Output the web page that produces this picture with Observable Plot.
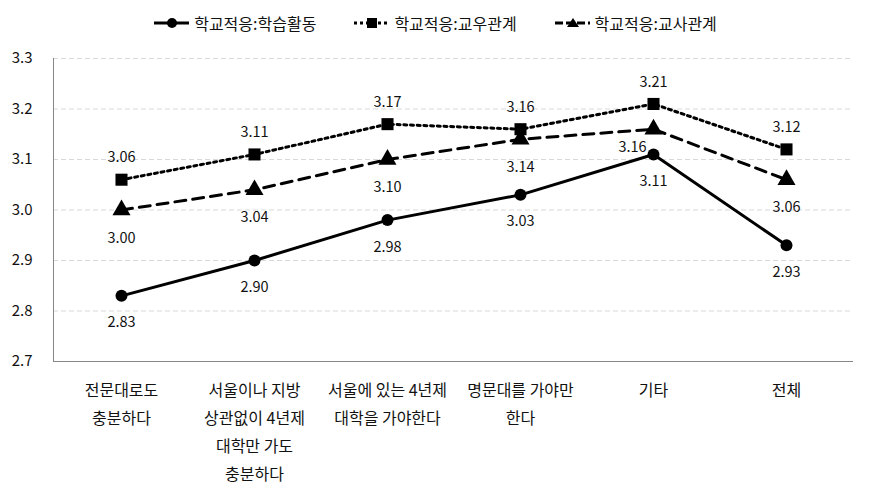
<!DOCTYPE html>
<html>
<head>
<meta charset="utf-8">
<script src="https://cdn.jsdelivr.net/npm/d3@7"></script>
<script src="https://cdn.jsdelivr.net/npm/@observablehq/plot@0.6"></script>
<style>
  body { margin: 0; background: #fff; font-family: "Noto Sans CJK KR", "Noto Sans", sans-serif; }
  #legend { height: 46px; display: flex; justify-content: center; align-items: center; gap: 38px; font-size: 16px; color: #111; }
  .item { display: flex; align-items: center; gap: 5px; }
</style>
</head>
<body>
<div id="legend"></div>
<div id="chart"></div>
<script>
const categories = [
  "전문대로도\n충분하다",
  "서울이나 지방\n상관없이 4년제\n대학만 가도\n충분하다",
  "서울에 있는 4년제\n대학을 가야한다",
  "명문대를 가야만\n한다",
  "기타",
  "전체"
];
const seriesNames = ["학교적응:학습활동", "학교적응:교우관계", "학교적응:교사관계"];
const learning = [2.83, 2.90, 2.98, 3.03, 3.11, 2.93];
const peers    = [3.06, 3.11, 3.17, 3.16, 3.21, 3.12];
const teachers = [3.00, 3.04, 3.10, 3.14, 3.16, 3.06];
const yTicks = [2.7, 2.8, 2.9, 3.0, 3.1, 3.2, 3.3];

const toRows = (vals, s) => vals.map((v, i) => ({category: categories[i], value: v, series: s}));
const L = toRows(learning, seriesNames[0]);
const P = toRows(peers, seriesNames[1]);
const T = toRows(teachers, seriesNames[2]);

const fmt = d3.format(".2f");
const styles = [
  {dash: null, symbol: "circle"},
  {dash: "3,3", symbol: "square"},
  {dash: "8,3", symbol: "triangle"}
];

// legend
const legend = document.getElementById("legend");
seriesNames.forEach((name, i) => {
  const st = styles[i];
  const item = document.createElement("div");
  item.className = "item";
  let marker = "";
  if (st.symbol === "circle") marker = '<circle cx="18" cy="8" r="5" fill="#000"/>';
  if (st.symbol === "square") marker = '<rect x="13" y="3" width="10" height="10" fill="#000"/>';
  if (st.symbol === "triangle") marker = '<path d="M18,3 L24,12 L12,12 Z" fill="#000"/>';
  item.innerHTML = `<svg width="35" height="16"><line x1="0" x2="35" y1="8" y2="8" stroke="#000" stroke-width="3" ${st.dash ? `stroke-dasharray="${st.dash}"` : ""}/>${marker}</svg><span>${name}</span>`;
  legend.appendChild(item);
});

const lineOpts = (dash) => ({x: "category", y: "value", stroke: "#000", strokeWidth: 3, strokeDasharray: dash});

const plot = Plot.plot({
  width: 871,
  height: 447,
  marginTop: 12,
  marginBottom: 132,
  marginLeft: 53,
  marginRight: 18,
  style: {fontFamily: '"Noto Sans CJK KR", "Noto Sans", sans-serif', color: "#111", background: "#fff"},
  x: {type: "point", domain: categories, padding: 0.5, label: null},
  y: {domain: [2.7, 3.3], label: null},
  marks: [
    Plot.gridY(yTicks.filter(d => d > 2.7), {stroke: "#d9d9d9", strokeOpacity: 1, strokeDasharray: "5,3"}),
    Plot.frame({anchor: "left", stroke: "#868686"}),
    Plot.ruleY([2.7], {stroke: "#868686"}),
    Plot.axisY(yTicks, {tickSize: 0, tickPadding: 21, tickFormat: d3.format(".1f"), fontSize: 15, label: null}),
    Plot.axisX({tickSize: 0, tickPadding: 15, fontSize: 16, lineHeight: 1.74, label: null}),
    Plot.line(L, lineOpts(null)),
    Plot.line(P, lineOpts("3,3.7")),
    Plot.line(T, lineOpts("11,7")),
    Plot.dot(L, {x: "category", y: "value", r: 6, fill: "#000"}),
    Plot.dot(P, {x: "category", y: "value", r: 6.8, symbol: "square", fill: "#000"}),
    Plot.dot(T, {x: "category", y: "value", r: 6.7, symbol: "triangle", fill: "#000"}),
    Plot.text(L, {x: "category", y: "value", text: d => fmt(d.value), dy: 27, fontSize: 14.5, fill: "#111"}),
    Plot.text(P, {x: "category", y: "value", text: d => fmt(d.value), dy: -22, fontSize: 14.5, fill: "#111"}),
    Plot.text(T.filter(d => d.category !== "기타"), {x: "category", y: "value", text: d => fmt(d.value), dy: 28, fontSize: 14.5, fill: "#111"}),
    Plot.text(T.filter(d => d.category === "기타"), {x: "category", y: "value", text: d => fmt(d.value), dx: -21, dy: 18, fontSize: 14.5, fill: "#111"})
  ]
});
document.getElementById("chart").appendChild(plot);
</script>
</body>
</html>
